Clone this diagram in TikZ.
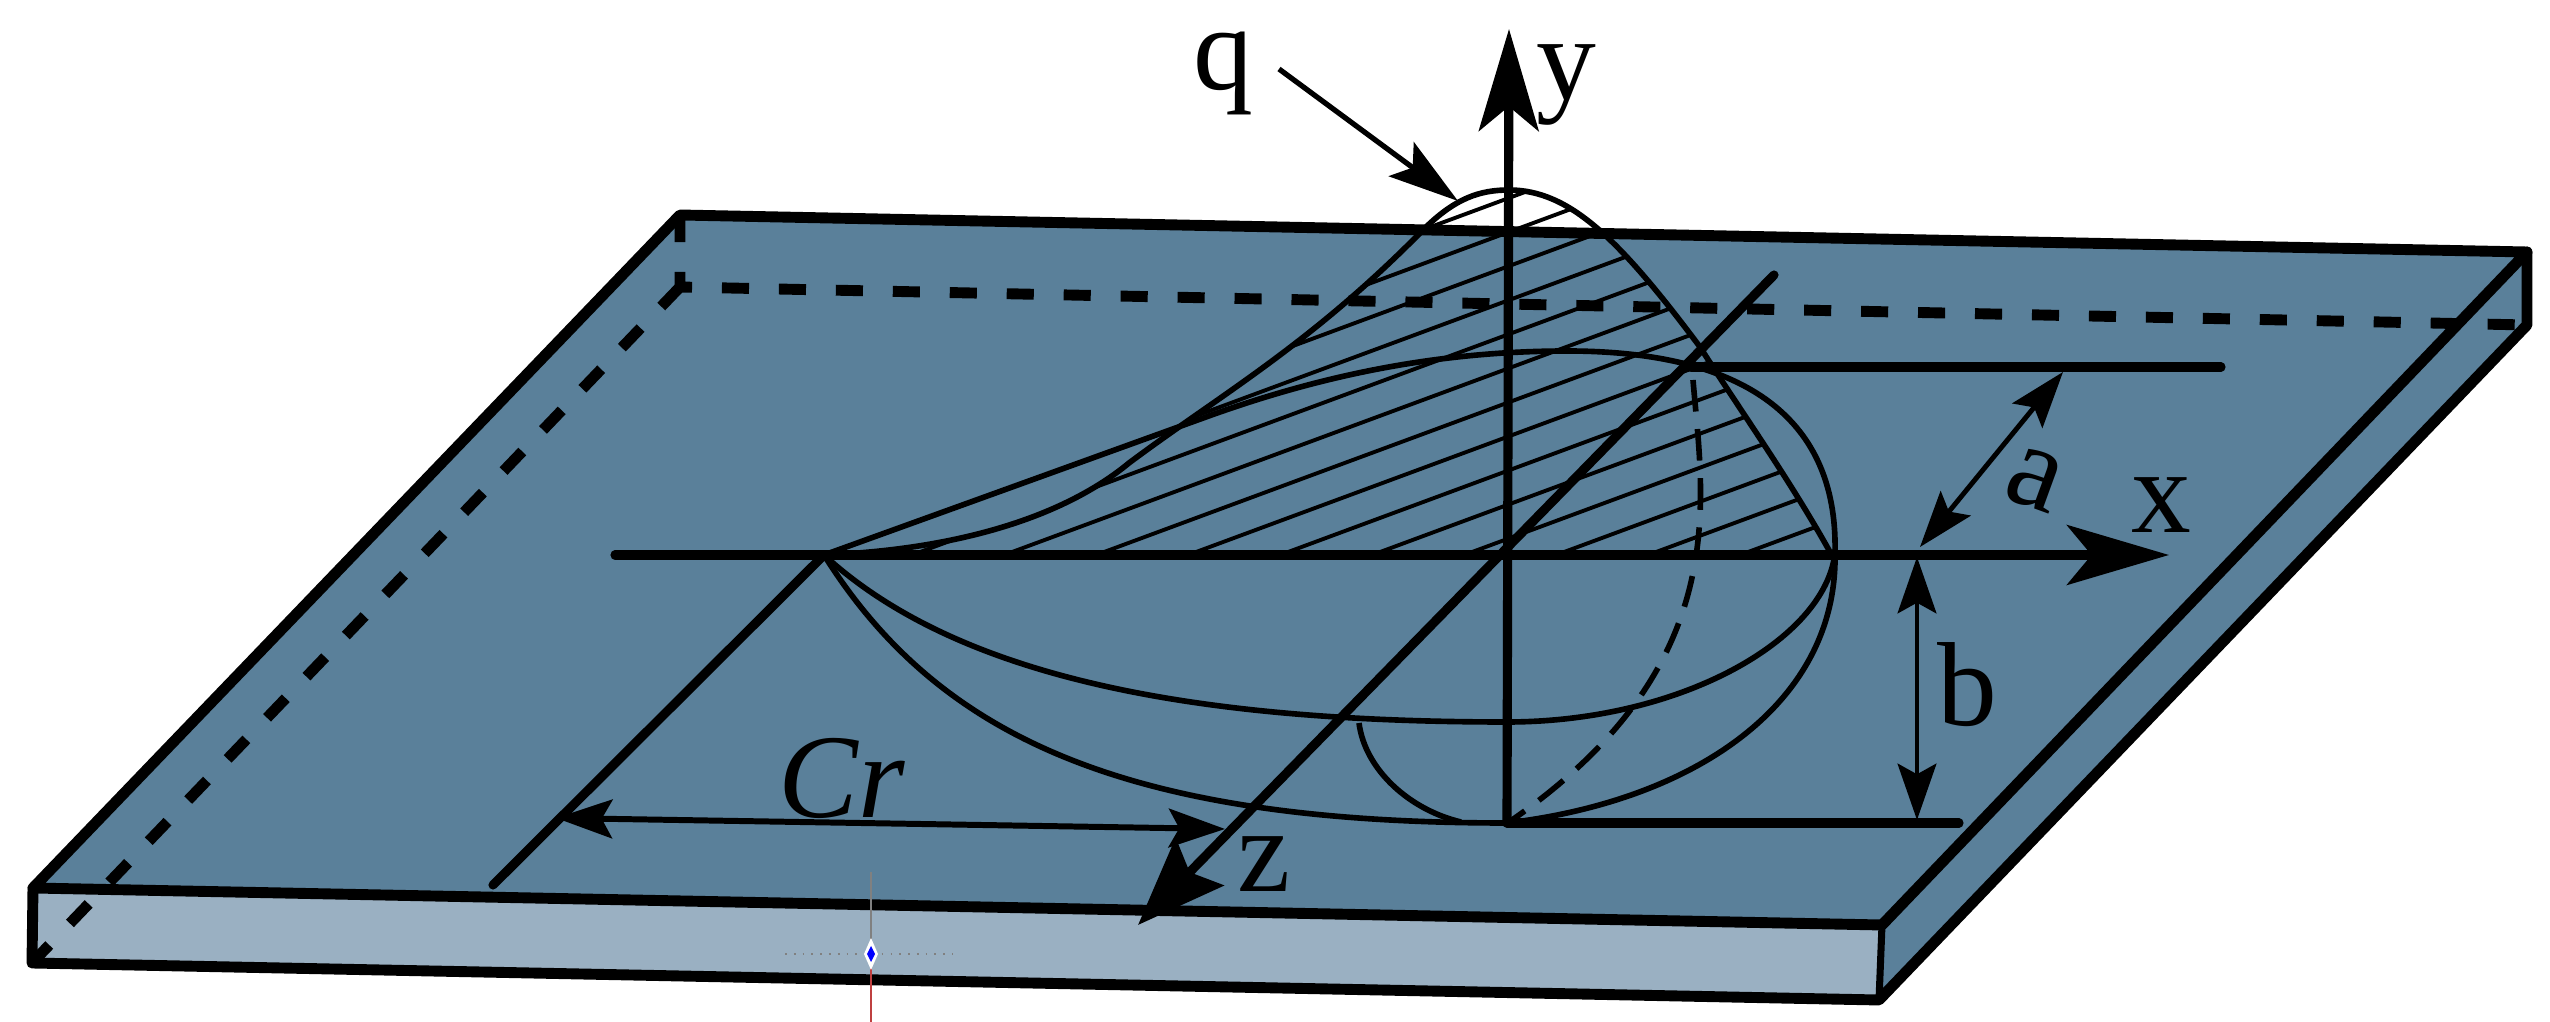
\documentclass[tikz,border=0pt]{standalone}
\usepackage{fontspec}
\setmainfont{Liberation Serif}
\usetikzlibrary{arrows.meta}
\definecolor{platetop}{HTML}{5A809A}
\definecolor{platefront}{HTML}{9AB0C2}
\tikzset{
	edgeline/.style={line width=3.1pt,line join=round,line cap=round},
	hiddenline/.style={line width=3.1pt,dash pattern=on 7.7pt off 8.5pt},
	axisline/.style={line width=2.6pt,line cap=round},
	curveline/.style={line width=1.6pt},
	hatchline/.style={line width=1.1pt},
	axistip/.style={-{Stealth[length=29pt,width=17pt,inset=7pt]}},
	ztip/.style={-{Stealth[length=25pt,width=19pt,inset=4pt]}},
	dimtip/.style={{Stealth[length=16pt,width=11pt,inset=3pt]}-{Stealth[length=16pt,width=11pt,inset=3pt]},line width=1.4pt},
	label/.style={font=\fontsize{34}{34}\selectfont,inner sep=0pt}
}
\newcommand{\loadcurve}{(824,555) .. controls (950,550) and (1060,520) .. (1129,463) .. controls (1220,395) and (1310,345) .. (1423,230) .. controls (1455,198) and (1480,190) .. (1509,190) .. controls (1570,190) and (1620,240) .. (1700,347) .. controls (1740,410) and (1790,480) .. (1830,552)}
\begin{document}
\begin{tikzpicture}[x=0.01cm,y=-0.01cm]
	\useasboundingbox (0,0) rectangle (2550,1022);
	% corners of the plate
	\coordinate (topbl) at (680,215);
	\coordinate (topbr) at (2527,252);
	\coordinate (topfr) at (1882,925);
	\coordinate (topfl) at (33,888);
	\coordinate (botbl) at (680,287);
	\coordinate (botbr) at (2527,325);
	\coordinate (botfr) at (1879,1000);
	\coordinate (botfl) at (32,963);
	% centre lines
	\coordinate (xstart) at (615,555);
	\coordinate (xtip) at (2169,555);
	\coordinate (ytip) at (1509,29);
	\coordinate (ybase) at (1507,823);
	\coordinate (ztop) at (1774,275);
	\coordinate (ztip) at (1138,925);
	\coordinate (root) at (824,555);
	\coordinate (rootend) at (493,885);
	\coordinate (aend) at (2221,367);
	\coordinate (astart) at (1691,367);
	\coordinate (bend) at (1959,823);
	\coordinate (xright) at (1835,553);

	\fill[platetop] (topfl) -- (topbl) -- (topbr) -- (topfr) -- cycle;
	\fill[platetop] (topfr) -- (topbr) -- (botbr) -- (botfr) -- cycle;
	\fill[platefront] (topfl) -- (topfr) -- (botfr) -- (botfl) -- cycle;

	\draw[hiddenline] (topbl) -- (botbl) -- (botbr);
	\draw[hiddenline] (botbl) -- (botfl);
	\draw[edgeline] (topfl) -- (topbl) -- (topbr) -- (topfr) -- cycle;
	\draw[edgeline] (topbr) -- (botbr) -- (botfr) -- (botfl) -- (topfl);
	\draw[edgeline,line width=2pt] (topfr) -- (botfr);

	% hatching under the load curve
	\begin{scope}
		\clip \loadcurve -- cycle;
		\foreach \k in {-4,...,10} {
			\draw[hatchline] (912+92*\k,555) -- ++(1000,-370);
		}
	\end{scope}

	\draw[curveline] \loadcurve;
	\draw[curveline] (root) -- (1206,417) .. controls (1300,383) and (1420,351) .. (1567,351) .. controls (1760,351) and (1838,430) .. (xright);
	\draw[curveline] (root) .. controls (960,680) and (1200,722) .. (1507,722) .. controls (1680,722) and (1825,640) .. (xright);
	\draw[curveline] (root) .. controls (940,740) and (1130,823) .. (ybase) .. controls (1700,800) and (1838,700) .. (xright);
	\draw[curveline,dash pattern=on 9pt off 5pt] (1693,380) .. controls (1703,500) and (1735,665) .. (1512,820);
	\draw[curveline] (1359,723) .. controls (1365,770) and (1410,810) .. (1461,822);

	% axes
	\draw[axisline,axistip] (xstart) -- (xtip);
	\draw[axisline,axistip] (ybase) -- (ytip);
	\draw[axisline,ztip] (ztop) -- (ztip);
	\draw[axisline] (root) -- (rootend);
	\draw[axisline] (astart) -- (aend);
	\draw[axisline] (ybase) -- (bend);

	% dimensions
	\draw[dimtip] (1917,557) -- (1917,820);
	\draw[dimtip] (1920,547) -- (2063,372);
	\draw[dimtip,line width=1.7pt] (556,818) -- (1225,829);
	\draw[line width=1.5pt,-{Stealth[length=20pt,width=12pt,inset=4pt]}] (1279,69) -- (1458,201);

	\node[label] (qlabel) at (1223,73) {q};
	\node[label] (ylabel) at (1566,85) {y};
	\node[label] (xlabel) at (2161,505) {x};
	\node[label,rotate=-20] (alabel) at (2035,480) {a};
	\node[label] (blabel) at (1967,685) {b};
	\node[label] (zlabel) at (1264,864) {z};
	\node[label] (crlabel) at (842,778) {\itshape Cr};

	% marker left on the page
	\draw[gray,line width=0.5pt,dotted] (785,954) -- (953,954);
	\draw[gray,line width=0.3pt] (871,872) -- (871,954);
	\draw[red!50!gray,line width=0.3pt] (871,954) -- (871,1022);
	\fill[white] (871,938) -- (878,954) -- (871,970) -- (864,954) -- cycle;
	\fill[blue] (871,946) -- (875,954) -- (871,962) -- (867,954) -- cycle;
\end{tikzpicture}
\end{document}
